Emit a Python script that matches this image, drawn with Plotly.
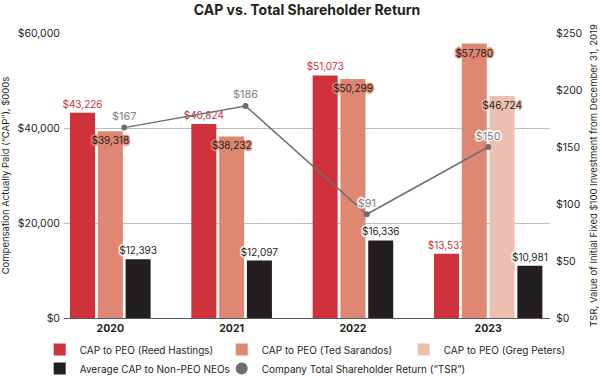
import plotly.graph_objects as go

# ---------------- data ----------------
years = ["2020", "2021", "2022", "2023"]
cap_reed = [43226, 40824, 51073, 13537]
cap_ted = [39318, 38232, 50299, 57780]
cap_greg = [None, None, None, 46724]
cap_nonpeo = [12393, 12097, 16336, 10981]
tsr = [167, 186, 91, 150]

names = {
    "reed": "CAP to PEO (Reed Hastings)",
    "ted": "CAP to PEO (Ted Sarandos)",
    "greg": "CAP to PEO (Greg Peters)",
    "nonpeo": "Average CAP to Non-PEO NEOs",
    "tsr": "Company Total Shareholder Return (\u201cTSR\u201d)",
}

# ---------------- styling ----------------
FONT = "Inter, Roboto, Arial, sans-serif"
RED = "#D0323C"
SALMON = "#DE8772"
PINK = "#ECBFB0"
BLACK = "#231F20"
GRAY = "#6D6E71"
TEXT = "#231F20"

GROUP_STEP = 4.364   # distance between group starts (in bar slots)
BAR_W = 0.9          # bar width (in bar slots)
GAP = 1 - BAR_W

series = [
    ("reed", cap_reed, RED),
    ("ted", cap_ted, SALMON),
    ("greg", cap_greg, PINK),
    ("nonpeo", cap_nonpeo, BLACK),
]

# compute slot positions: bars of a year are packed side by side
xpos = {key: [None] * len(years) for key, _, _ in series}
tick_pos = []
tsr_x = []
for k in range(len(years)):
    start = k * GROUP_STEP
    present = [key for key, vals, _ in series if vals[k] is not None]
    for i, key in enumerate(present):
        xpos[key][k] = start + i + BAR_W / 2
    tick_pos.append(start + (len(present) - GAP) / 2)
    tsr_x.append(start + 2 - GAP / 2)


def halo(color):
    offs = [(1.5, 0), (-1.5, 0), (0, 1.5), (0, -1.5), (1, 1), (-1, -1), (1, -1), (-1, 1)]
    return ", ".join(f"{dx}px {dy}px 1px {color}" for dx, dy in offs)


def fmt(v):
    return None if v is None else f"${v:,}"


fig = go.Figure()

label_style = {
    "reed": dict(pos="outside", color=RED, halo="#ffffff"),
    "ted": dict(pos="inside", color=TEXT, halo=SALMON),
    "greg": dict(pos="inside", color=TEXT, halo=PINK),
    "nonpeo": dict(pos="outside", color=TEXT, halo="#ffffff"),
}

for key, vals, color in series:
    st = label_style[key]
    tf = dict(family=FONT, size=10, color=st["color"], shadow=halo(st["halo"]))
    fig.add_trace(go.Bar(
        x=xpos[key], y=vals, width=BAR_W, name=names[key],
        marker=dict(color=color, line=dict(width=0)),
        text=[fmt(v) for v in vals], textposition=st["pos"],
        insidetextanchor="end", textangle=0, constraintext="none",
        cliponaxis=False,
        textfont=tf, outsidetextfont=tf, insidetextfont=tf,
        hoverinfo="skip",
    ))

fig.add_trace(go.Scatter(
    x=tsr_x, y=tsr, yaxis="y2", mode="lines",
    line=dict(color=GRAY, width=1.5), showlegend=False, hoverinfo="skip",
))
fig.add_trace(go.Scatter(
    x=tsr_x, y=tsr, yaxis="y2", mode="markers+text", name=names["tsr"],
    marker=dict(color=GRAY, size=6),
    text=[f"${v}" for v in tsr], textposition="top center",
    textfont=dict(family=FONT, size=11, color="#808285", shadow=halo("#ffffff")),
    cliponaxis=False, hoverinfo="skip",
))

fig.update_layout(
    width=600, height=376,
    margin=dict(l=64, r=50, t=33, b=58, autoexpand=False),
    paper_bgcolor="white", plot_bgcolor="white",
    font=dict(family=FONT, color=TEXT, size=10),
    barmode="overlay",
    title=dict(text="<b>CAP vs. Total Shareholder Return</b>", x=0.5, xref="paper",
               y=1 - 10 / 376, yref="container", yanchor="middle",
               font=dict(family=FONT, size=14, color=TEXT)),
    xaxis=dict(range=[-6 / 27.8, 480 / 27.8], tickvals=tick_pos,
               ticktext=[f"<b>{y}</b>" for y in years],
               showgrid=False, zeroline=False, showline=True,
               linecolor="#58595B", linewidth=1, ticks="",
               tickfont=dict(family=FONT, size=10.5, color=TEXT)),
    yaxis=dict(range=[0, 60000], dtick=20000, tickprefix="$", tickformat=",",
               showgrid=True, gridcolor="#BDBDBD", gridwidth=1, zeroline=False,
               ticks="", tickfont=dict(family=FONT, size=10.5, color=TEXT),
               automargin=False, ticklabelstandoff=3,
               title=dict(text="Compensation Actually Paid (\u201cCAP\u201d), $000s",
                          font=dict(family=FONT, size=9.5, color=TEXT), standoff=6)),
    yaxis2=dict(range=[0, 250], dtick=50, tickprefix="$", overlaying="y", side="right",
                showgrid=False, zeroline=False, ticks="", automargin=False,
                ticklabelstandoff=5,
                tickfont=dict(family=FONT, size=10.5, color=TEXT),
                title=dict(text="TSR, Value of Initial Fixed $100 Investment from December 31, 2019",
                           font=dict(family=FONT, size=9.5, color=TEXT), standoff=8)),
    legend=dict(orientation="h", x=-0.05, xanchor="left", y=-0.06, yanchor="top",
                entrywidth=137, font=dict(family=FONT, size=10, color=TEXT),
                itemsizing="constant", traceorder="normal"),
    showlegend=True,
)

fig.write_html("out.html", config={"displayModeBar": False},
               post_script="document.body.style.margin='0px';")
